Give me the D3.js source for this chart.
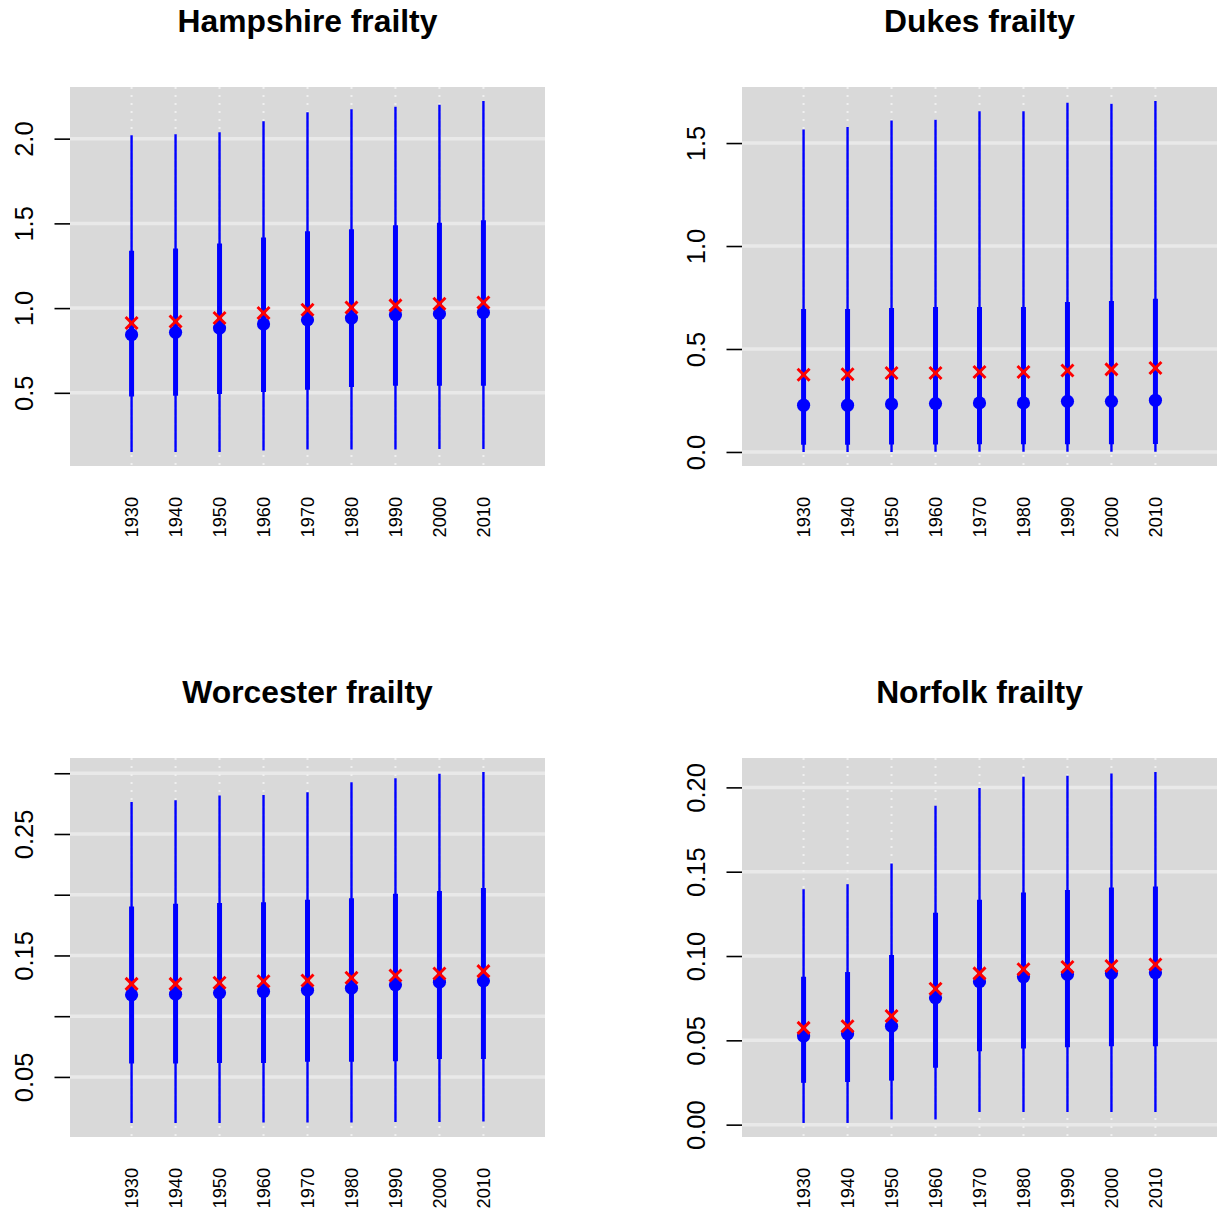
<!DOCTYPE html>
<html>
<head>
<meta charset="utf-8">
<script src="https://cdn.jsdelivr.net/npm/d3@7"></script>
<style>
  html, body { margin: 0; padding: 0; background: #ffffff; }
  svg { display: block; font-family: "Liberation Sans", Arial, Helvetica, sans-serif; }
</style>
</head>
<body>
<svg id="chart" width="1224" height="1214"></svg>
<script>
// Decades on the x axis
const years = [1930, 1940, 1950, 1960, 1970, 1980, 1990, 2000, 2010];
const yearLabels = ["1930", "1940", "1950", "1960", "1970", "1980", "1990", "2000", "2010"];

// Hampshire frailty: 95% and 50% intervals, median (dot) and mean (cross)
const hampshireLo95  = [0.151, 0.151, 0.151, 0.160, 0.165, 0.165, 0.165, 0.169, 0.169];
const hampshireLo50  = [0.479, 0.483, 0.493, 0.505, 0.518, 0.534, 0.542, 0.542, 0.542];
const hampshireMed   = [0.843, 0.857, 0.882, 0.906, 0.931, 0.941, 0.961, 0.967, 0.974];
const hampshireMean  = [0.912, 0.921, 0.941, 0.971, 0.990, 1.004, 1.016, 1.026, 1.033];
const hampshireHi50  = [1.338, 1.352, 1.381, 1.417, 1.454, 1.466, 1.489, 1.503, 1.519];
const hampshireHi95  = [2.020, 2.026, 2.038, 2.103, 2.156, 2.174, 2.189, 2.200, 2.222];
const hampshireTicks = [0.5, 1.0, 1.5, 2.0];
const hampshireTickLabels = ["0.5", "1.0", "1.5", "2.0"];

// Dukes frailty
const dukesLo95  = [0.000, 0.000, 0.000, 0.001, 0.001, 0.001, 0.001, 0.001, 0.001];
const dukesLo50  = [0.035, 0.035, 0.036, 0.036, 0.037, 0.037, 0.038, 0.038, 0.039];
const dukesMed   = [0.227, 0.227, 0.233, 0.235, 0.238, 0.238, 0.246, 0.246, 0.251];
const dukesMean  = [0.375, 0.377, 0.383, 0.383, 0.388, 0.388, 0.396, 0.401, 0.408];
const dukesHi50  = [0.694, 0.694, 0.699, 0.704, 0.704, 0.704, 0.728, 0.733, 0.744];
const dukesHi95  = [1.566, 1.578, 1.610, 1.613, 1.654, 1.654, 1.696, 1.691, 1.704];
const dukesTicks = [0.0, 0.5, 1.0, 1.5];
const dukesTickLabels = ["0.0", "0.5", "1.0", "1.5"];

// Worcester frailty
const worcesterLo95  = [0.0121, 0.0121, 0.0121, 0.0125, 0.0125, 0.0125, 0.0128, 0.0128, 0.0133];
const worcesterLo50  = [0.0610, 0.0610, 0.0615, 0.0615, 0.0624, 0.0624, 0.0629, 0.0648, 0.0648];
const worcesterMed   = [0.1176, 0.1181, 0.1192, 0.1203, 0.1214, 0.1231, 0.1258, 0.1280, 0.1291];
const worcesterMean  = [0.1266, 0.1266, 0.1275, 0.1288, 0.1294, 0.1316, 0.1335, 0.1352, 0.1371];
const worcesterHi50  = [0.1904, 0.1926, 0.1931, 0.1937, 0.1959, 0.1970, 0.2008, 0.2030, 0.2055];
const worcesterHi95  = [0.2764, 0.2777, 0.2816, 0.2821, 0.2843, 0.2926, 0.2959, 0.2995, 0.3010];
const worcesterTicks = [0.05, 0.10, 0.15, 0.20, 0.25, 0.30];
const worcesterTickLabels = ["0.05", "", "0.15", "", "0.25", ""];

// Norfolk frailty
const norfolkLo95  = [0.0010, 0.0010, 0.0030, 0.0030, 0.0075, 0.0075, 0.0075, 0.0075, 0.0075];
const norfolkLo50  = [0.0248, 0.0253, 0.0261, 0.0337, 0.0436, 0.0451, 0.0459, 0.0465, 0.0465];
const norfolkMed   = [0.0525, 0.0539, 0.0584, 0.0752, 0.0848, 0.0877, 0.0891, 0.0897, 0.0901];
const norfolkMean  = [0.0574, 0.0584, 0.0644, 0.0806, 0.0897, 0.0921, 0.0935, 0.0941, 0.0950];
const norfolkHi50  = [0.0877, 0.0905, 0.1006, 0.1257, 0.1333, 0.1376, 0.1392, 0.1406, 0.1412];
const norfolkHi95  = [0.1396, 0.1426, 0.1549, 0.1891, 0.1996, 0.2063, 0.2069, 0.2083, 0.2091];
const norfolkTicks = [0.00, 0.05, 0.10, 0.15, 0.20];
const norfolkTickLabels = ["0.00", "0.05", "0.10", "0.15", "0.20"];

const panels = [
  { title: "Hampshire frailty", col: 0, row: 0, lo95: hampshireLo95, lo50: hampshireLo50, med: hampshireMed,
    mean: hampshireMean, hi50: hampshireHi50, hi95: hampshireHi95, ticks: hampshireTicks, tickLabels: hampshireTickLabels },
  { title: "Dukes frailty", col: 1, row: 0, lo95: dukesLo95, lo50: dukesLo50, med: dukesMed,
    mean: dukesMean, hi50: dukesHi50, hi95: dukesHi95, ticks: dukesTicks, tickLabels: dukesTickLabels },
  { title: "Worcester frailty", col: 0, row: 1, lo95: worcesterLo95, lo50: worcesterLo50, med: worcesterMed,
    mean: worcesterMean, hi50: worcesterHi50, hi95: worcesterHi95, ticks: worcesterTicks, tickLabels: worcesterTickLabels },
  { title: "Norfolk frailty", col: 1, row: 1, lo95: norfolkLo95, lo50: norfolkLo50, med: norfolkMed,
    mean: norfolkMean, hi50: norfolkHi50, hi95: norfolkHi95, ticks: norfolkTicks, tickLabels: norfolkTickLabels }
];

// Panel geometry (plot region of each panel)
const plotW = 475, plotH = 379;
const originX = 70, originY = 87, stepX = 672, stepY = 671;

const BG = "#d9d9d9", GRID = "#e9e9e9", DOTGRID = "#f0f0f0";
const BLUE = "#0000ff", RED = "#ff0000";

// pad a range by 4% on each side
function padRange(lo, hi) {
  const d = (hi - lo) * 0.04;
  return [lo - d, hi + d];
}

const svg = d3.select("#chart");
svg.append("rect").attr("width", 1224).attr("height", 1214).attr("fill", "#ffffff");

panels.forEach(p => {
  const left = originX + p.col * stepX;
  const top = originY + p.row * stepY;
  const g = svg.append("g").attr("transform", `translate(${left},${top})`);

  const x = d3.scaleLinear()
    .domain(padRange(d3.min(years) - 10, d3.max(years) + 10))
    .range([0, plotW]);
  const y = d3.scaleLinear()
    .domain(padRange(d3.min(p.lo95), d3.max(p.hi95)))
    .range([plotH, 0]);

  const rows = years.map((yr, i) => ({
    year: yr, lo95: p.lo95[i], lo50: p.lo50[i], med: p.med[i],
    mean: p.mean[i], hi50: p.hi50[i], hi95: p.hi95[i]
  }));

  // plot background
  g.append("rect").attr("width", plotW).attr("height", plotH).attr("fill", BG);

  // horizontal grid at the tick values
  g.append("g").selectAll("line").data(p.ticks).join("line")
    .attr("x1", 0).attr("x2", plotW)
    .attr("y1", d => y(d)).attr("y2", d => y(d))
    .attr("stroke", GRID).attr("stroke-width", 3.5);

  // dotted vertical grid at each decade
  g.append("g").selectAll("line").data(years).join("line")
    .attr("x1", d => x(d)).attr("x2", d => x(d))
    .attr("y1", 0).attr("y2", plotH)
    .attr("stroke", DOTGRID).attr("stroke-width", 2)
    .attr("stroke-dasharray", "2,6");

  // y axis: ticks outside the plot, labels parallel to the axis
  const yAxis = d3.axisLeft(y)
    .tickValues(p.ticks)
    .tickFormat((d, i) => p.tickLabels[i])
    .tickSize(15.5)
    .tickPadding(0);
  const ya = g.append("g").call(yAxis);
  ya.select(".domain").remove();
  ya.selectAll(".tick line").attr("stroke", "#000").attr("stroke-width", 1.6);
  ya.selectAll(".tick text")
    .attr("x", null).attr("dy", null)
    .attr("text-anchor", "middle")
    .attr("transform", "translate(-37,0) rotate(-90)")
    .attr("font-size", 25.5)
    .attr("fill", "#000");

  // x axis labels, perpendicular to the axis, no tick marks
  const xAxis = d3.axisBottom(x)
    .tickValues(years)
    .tickFormat((d, i) => yearLabels[i])
    .tickSize(0)
    .tickPadding(0);
  const xa = g.append("g").attr("transform", `translate(0,${plotH})`).call(xAxis);
  xa.select(".domain").remove();
  xa.selectAll(".tick text")
    .attr("y", null).attr("dy", null)
    .attr("text-anchor", "end")
    .attr("dominant-baseline", "central")
    .attr("transform", "translate(0,31) rotate(-90)")
    .attr("font-size", 18.2)
    .attr("fill", "#000");

  // 95% interval (thin) and 50% interval (thick)
  g.append("g").selectAll("line").data(rows).join("line")
    .attr("x1", d => x(d.year)).attr("x2", d => x(d.year))
    .attr("y1", d => y(d.lo95)).attr("y2", d => y(d.hi95))
    .attr("stroke", BLUE).attr("stroke-width", 2.4);
  g.append("g").selectAll("line").data(rows).join("line")
    .attr("x1", d => x(d.year)).attr("x2", d => x(d.year))
    .attr("y1", d => y(d.lo50)).attr("y2", d => y(d.hi50))
    .attr("stroke", BLUE).attr("stroke-width", 5);

  // median as a filled dot
  g.append("g").selectAll("circle").data(rows).join("circle")
    .attr("cx", d => x(d.year)).attr("cy", d => y(d.med))
    .attr("r", 6.6).attr("fill", BLUE);

  // mean as a red cross
  const s = 6;
  g.append("g").selectAll("path").data(rows).join("path")
    .attr("d", d => {
      const cx = x(d.year), cy = y(d.mean);
      return `M${cx - s},${cy - s}L${cx + s},${cy + s}M${cx - s},${cy + s}L${cx + s},${cy - s}`;
    })
    .attr("stroke", RED).attr("stroke-width", 2.9).attr("fill", "none");

  // panel title
  g.append("text")
    .attr("x", plotW / 2).attr("y", -55)
    .attr("text-anchor", "middle")
    .attr("font-size", 31.8).attr("font-weight", "bold")
    .attr("fill", "#000")
    .text(p.title);
});
</script>
</body>
</html>
